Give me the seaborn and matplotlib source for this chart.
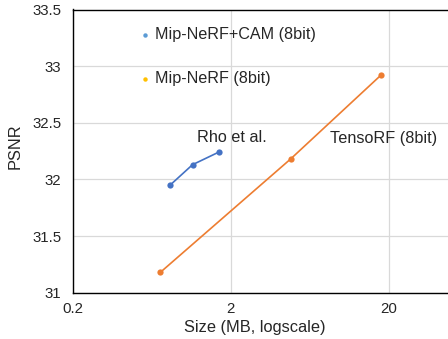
import matplotlib
matplotlib.use("Agg")
import matplotlib.pyplot as plt
import seaborn as sns
import pandas as pd

# Data
cam_size = [0.83, 1.15, 1.68]
cam_psnr = [31.95, 32.13, 32.24]
tenso_size = [0.72, 4.8, 17.9]
tenso_psnr = [31.18, 32.18, 32.92]

legend_labels = ["Mip-NeRF+CAM (8bit)", "Mip-NeRF (8bit)"]
annot_labels = ["Rho et al.", "TensoRF (8bit)"]
xticks = [0.2, 2, 20]
xtick_labels = ["0.2", "2", "20"]
yticks = [31, 31.5, 32, 32.5, 33, 33.5]
ytick_labels = ["31", "31.5", "32", "32.5", "33", "33.5"]

sns.set_theme(style="white")
plt.rcParams["font.family"] = ["Liberation Sans", "DejaVu Sans"]

df = pd.DataFrame({
    "size": cam_size + tenso_size,
    "psnr": cam_psnr + tenso_psnr,
    "method": ["cam"] * len(cam_size) + ["tenso"] * len(tenso_size),
})

W, H = 448, 339
fig = plt.figure(figsize=(W / 100, H / 100), dpi=100)
ax = fig.add_axes([72.5 / W, 1 - 292.7 / H, 1 - 72.5 / W, (292.7 - 9.5) / H])

sns.lineplot(data=df, x="size", y="psnr", hue="method",
             palette={"cam": "#4472C4", "tenso": "#ED7D31"},
             marker="o", markersize=4.5, markeredgewidth=0, linewidth=1.2,
             legend=False, ax=ax, zorder=3)

ax.set_xscale("log")
ax.set_xlim(0.2, 47.6)
ax.set_ylim(31, 33.5)
ax.set_xticks(xticks)
ax.set_xticklabels(xtick_labels)
ax.minorticks_off()
ax.set_yticks(yticks)
ax.set_yticklabels(ytick_labels)
ax.tick_params(axis="both", length=0, labelsize=10.8, colors="#262626")
ax.tick_params(axis="x", pad=7)
ax.tick_params(axis="y", pad=8)

ax.grid(True, color="#D9D9D9", linewidth=0.9)
ax.set_axisbelow(True)
for s in ["left", "bottom", "top"]:
    ax.spines[s].set_color("black")
    ax.spines[s].set_linewidth(1.0)
    ax.spines[s].set_visible(True)
ax.spines["right"].set_visible(False)

ax.set_xlabel("Size (MB, logscale)", fontsize=11.8, color="#262626")
ax.set_ylabel("PSNR", fontsize=11.8, color="#262626")
ax.xaxis.set_label_coords((255 - 72.5) / 375.5, (292.7 - 320) / 283.2)
ax.yaxis.set_label_coords((23 - 72.5) / 375.5, (292.7 - 146) / 283.2)

# legend drawn manually (dot + text)
leg_colors = ["#5B9BD5", "#FFC000"]
leg_y = [35, 79]
for lab, c, yp in zip(legend_labels, leg_colors, leg_y):
    fig.lines.append(plt.Line2D([145 / W], [1 - yp / H], marker="o", markersize=3.2,
                                markeredgewidth=0, color=c, transform=fig.transFigure))
    fig.text(155 / W, 1 - yp / H, lab, fontsize=11.6, va="center", ha="left", color="#262626")

fig.text(197 / W, 1 - 137 / H, annot_labels[0], fontsize=11.7, va="center", ha="left", color="#262626")
fig.text(330 / W, 1 - 139 / H, annot_labels[1], fontsize=11.7, va="center", ha="left", color="#262626")

fig.savefig("out.png", dpi=100)
